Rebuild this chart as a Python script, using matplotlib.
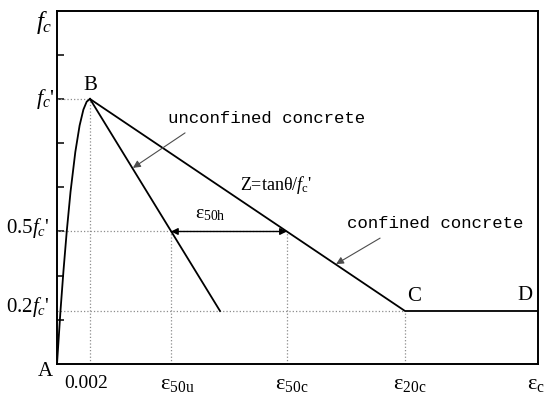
import numpy as np
import matplotlib
matplotlib.use("Agg")
import matplotlib.pyplot as plt

plt.rcParams['font.family'] = ['Liberation Serif', 'DejaVu Serif']
plt.rcParams['mathtext.fontset'] = 'custom'
plt.rcParams['mathtext.rm'] = 'Liberation Serif'
plt.rcParams['mathtext.it'] = 'Liberation Serif:italic'
plt.rcParams['mathtext.bf'] = 'Liberation Serif:bold'

# ascending branch (strain, stress / fc')
asc_strain = [0.0, 0.00021, 0.00039, 0.00059, 0.00082, 0.00111, 0.00137, 0.00160, 0.00180, 0.0020]
asc_stress = [0.0, 0.20, 0.35, 0.50, 0.65, 0.80, 0.90, 0.96, 0.99, 1.0]

# descending branches
unconf_strain = [0.0020, 0.00988]
unconf_stress = [1.0, 0.2]
conf_strain = [0.0020, 0.02109, 0.02915]
conf_stress = [1.0, 0.2, 0.2]

eps_0 = 0.002
eps_50u = 0.00691
eps_50c = 0.01393
eps_20c = 0.02109

x_max = 0.02915
y_max = 1.332
y_ticks = [k / 6 for k in range(1, 8)]

fig = plt.figure(figsize=(5.5, 3.98), dpi=100)
ax = fig.add_axes([57 / 550, 1 - 364 / 398, (538 - 57) / 550, (364 - 11) / 398])

# dotted guide lines
gc = '0.55'
ax.hlines([1.0, 0.5, 0.2], 0, [eps_0, eps_50c, eps_20c], colors=gc, linestyles=':', lw=0.9)
ax.vlines([eps_0, eps_50u, eps_50c, eps_20c], 0, [1.0, 0.5, 0.5, 0.2], colors=gc, linestyles=':', lw=0.9)

ax.plot(asc_strain, asc_stress, color='black', lw=1.3)
ax.plot(unconf_strain, unconf_stress, color='black', lw=1.3)
ax.plot(conf_strain, conf_stress, color='black', lw=1.3)

ax.set_xlim(0, x_max)
ax.set_ylim(0, y_max)
ax.set_xticks([])
ax.set_yticks(y_ticks)
ax.tick_params(axis='y', direction='in', length=5, width=1.1, labelleft=False)
for s in ax.spines.values():
    s.set_linewidth(1.4)

# axis labels
ax.text(-0.0003, 1.29, r'$f_c$', fontsize=18, ha='right', va='center')
ax.text(-0.00012, 1.0, r"$f_c$'", fontsize=16, ha='right', va='center')
ax.text(-0.00042, 0.513, r"0.5$f_c$'", fontsize=15, ha='right', va='center')
ax.text(-0.00042, 0.215, r"0.2$f_c$'", fontsize=15, ha='right', va='center')
ax.text(-0.00073, -0.03, 'A', fontsize=15, ha='center', va='center')
ax.text(0.00176, -0.072, '0.002', fontsize=14, ha='center', va='center')
ax.text(eps_50u + 0.0004, -0.079, r'$\mathrm{ε}_{\mathrm{50u}}$', fontsize=16, ha='center', va='center')
ax.text(eps_50c + 0.0003, -0.079, r'$\mathrm{ε}_{\mathrm{50c}}$', fontsize=16, ha='center', va='center')
ax.text(eps_20c + 0.0003, -0.079, r'$\mathrm{ε}_{\mathrm{20c}}$', fontsize=16, ha='center', va='center')
ax.text(0.0290, -0.079, r'$\mathrm{ε}_{\mathrm{c}}$', fontsize=16, ha='center', va='center')

# points
ax.text(eps_0, 1.049, 'B', fontsize=15, ha='center', va='center')
ax.text(0.02164, 0.253, 'C', fontsize=15, ha='center', va='center')
ax.text(0.02836, 0.26, 'D', fontsize=15, ha='center', va='center')

# annotations
arrow = dict(arrowstyle='-|>', color='0.3', lw=0.8, mutation_scale=11, shrinkA=0, shrinkB=0)
ax.text(0.00673, 0.928, 'unconfined concrete', fontsize=12.5, family='Liberation Mono',
        ha='left', va='center')
ax.annotate('', xy=(0.0046, 0.74), xytext=(0.00776, 0.872), arrowprops=arrow)

ax.text(0.01758, 0.532, 'confined concrete', fontsize=12.5, family='Liberation Mono',
        ha='left', va='center')
ax.annotate('', xy=(0.01691, 0.377), xytext=(0.01958, 0.475), arrowprops=arrow)

ax.text(0.01109, 0.675, r"Z=tanθ/$f_{\mathrm{c}}$'", fontsize=13, ha='left', va='center')

ax.annotate('', xy=(eps_50u, 0.5), xytext=(eps_50c, 0.5),
            arrowprops=dict(arrowstyle='<|-|>', color='black', lw=1.0, mutation_scale=10,
                            shrinkA=0, shrinkB=0))
ax.text(0.00927, 0.565, r'$\mathrm{ε}_{\mathrm{50h}}$', fontsize=14, ha='center', va='center')

fig.savefig('out.png', dpi=100)
